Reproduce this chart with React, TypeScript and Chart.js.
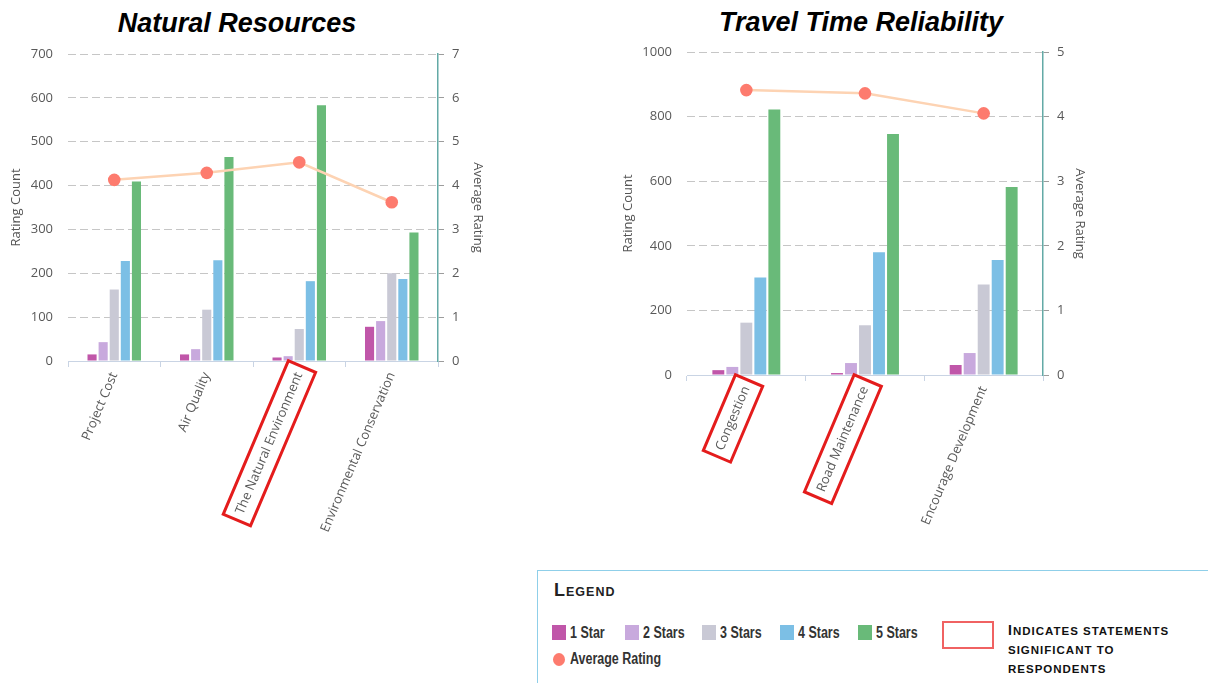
import React, { useEffect, useRef } from "react";
import { Chart, registerables } from "chart.js";

Chart.register(...registerables);

// ---- Natural Resources ----
const NR_CATEGORIES = ["Project Cost", "Air Quality", "The Natural Environment", "Environmental Conservation"];
const NR_ONE_STAR = [15, 15, 8, 78];
const NR_TWO_STARS = [43, 27, 11, 91];
const NR_THREE_STARS = [163, 117, 73, 200];
const NR_FOUR_STARS = [228, 230, 182, 187];
const NR_FIVE_STARS = [409, 465, 583, 293];
const NR_AVERAGE = [4.13, 4.29, 4.53, 3.62];
const NR_SIGNIFICANT = ["The Natural Environment"];
const NR_COUNT_MAX = 700;
const NR_COUNT_STEP = 100;
const NR_RATING_MAX = 7;

// ---- Travel Time Reliability ----
const TT_CATEGORIES = ["Congestion", "Road Maintenance", "Encourage Development"];
const TT_ONE_STAR = [15, 6, 31];
const TT_TWO_STARS = [25, 37, 68];
const TT_THREE_STARS = [162, 154, 280];
const TT_FOUR_STARS = [302, 380, 356];
const TT_FIVE_STARS = [822, 746, 582];
const TT_AVERAGE = [4.41, 4.36, 4.05];
const TT_SIGNIFICANT = ["Congestion", "Road Maintenance"];
const TT_COUNT_MAX = 1000;
const TT_COUNT_STEP = 200;
const TT_RATING_MAX = 5;

const STAR_LABELS = ["1 Star", "2 Stars", "3 Stars", "4 Stars", "5 Stars"];
const STAR_COLORS = ["#c056a9", "#c8a9dd", "#c9c9d5", "#7cbfe5", "#69ba79"];
const AVERAGE_LABEL = "Average Rating";
const LINE_COLOR = "#fdd3b3";
const POINT_COLOR = "#fd7b6e";
const HIGHLIGHT_RED = "#e41c1c";

const TICK_FONT = { family: "'Open Sans', 'DejaVu Sans', sans-serif", size: 13 };
const TICK_COLOR = "#595959";
const X_AXIS_COLOR = "#c9d4e4";
const RIGHT_AXIS_COLOR = "#63aaa6";

type Geometry = {
  left: number;
  width: number;
  height: number;
  plotLeft: number;
  plotRight: number;
  plotTop: number;
  plotBottom: number;
  leftTitlePad: number;
  rightTitlePad: number;
  barPercentage: number;
  categoryPercentage: number;
};

type PanelProps = {
  categories: string[];
  series: number[][];
  averages: number[];
  significant: string[];
  countMax: number;
  countStep: number;
  ratingMax: number;
  geo: Geometry;
};

function RatingPanel({ categories, series, averages, significant, countMax, countStep, ratingMax, geo }: PanelProps) {
  const ref = useRef<HTMLCanvasElement | null>(null);

  useEffect(() => {
    if (!ref.current) return;

    // Outlines the x-axis labels of statements flagged as significant
    const significantBoxes = {
      id: "significantBoxes",
      afterDraw(chart: any) {
        const scale = chart.scales.x;
        const items = scale.getLabelItems();
        const ctx = chart.ctx;
        items.forEach((item: any) => {
          const label = Array.isArray(item.label) ? item.label.join(" ") : String(item.label);
          if (!significant.includes(label)) return;
          const o = item.options;
          ctx.save();
          ctx.translate(o.translation[0], o.translation[1]);
          ctx.rotate(o.rotation);
          ctx.font = item.font.string;
          const w = ctx.measureText(label).width;
          const lh = item.font.lineHeight;
          let cy = item.textOffset;
          if (o.textBaseline === "top") cy += lh / 2;
          else if (o.textBaseline === "bottom") cy -= lh / 2;
          let x0 = -w;
          if (o.textAlign === "center") x0 = -w / 2;
          else if (o.textAlign === "left") x0 = 0;
          const padEnd = 7;
          const padSide = 7;
          ctx.strokeStyle = HIGHLIGHT_RED;
          ctx.lineWidth = 3;
          ctx.strokeRect(x0 - padEnd, cy - lh / 2 - padSide, w + padEnd * 2, lh + padSide * 2);
          ctx.restore();
        });
      },
    };

    const chart = new Chart(ref.current, {
      type: "bar",
      data: {
        labels: categories,
        datasets: [
          ...series.map((values, i) => ({
            type: "bar" as const,
            label: STAR_LABELS[i],
            data: values,
            backgroundColor: STAR_COLORS[i],
            borderWidth: 0,
            yAxisID: "y",
            order: 1,
            barPercentage: geo.barPercentage,
            categoryPercentage: geo.categoryPercentage,
          })),
          {
            type: "line" as const,
            label: AVERAGE_LABEL,
            data: averages,
            yAxisID: "y1",
            borderColor: LINE_COLOR,
            borderWidth: 2.5,
            pointRadius: 6.3,
            pointHoverRadius: 6.3,
            pointBackgroundColor: POINT_COLOR,
            pointBorderColor: POINT_COLOR,
            pointBorderWidth: 0,
            tension: 0,
            order: 0,
          },
        ],
      } as any,
      options: {
        animation: false,
        responsive: false,
        maintainAspectRatio: false,
        layout: { padding: { top: geo.plotTop, left: 0, right: 0, bottom: 0 } },
        plugins: {
          legend: { display: false },
          tooltip: { enabled: false },
          title: { display: false },
        },
        scales: {
          x: {
            offset: true,
            grid: {
              display: true,
              offset: true,
              drawOnChartArea: false,
              drawTicks: true,
              tickLength: 6,
              color: X_AXIS_COLOR,
            },
            border: { display: true, color: X_AXIS_COLOR, width: 1 },
            ticks: {
              autoSkip: false,
              minRotation: 67,
              maxRotation: 67,
              padding: 3,
              color: TICK_COLOR,
              font: TICK_FONT,
            },
            afterFit: (s: any) => {
              s.height = geo.height - geo.plotBottom;
            },
          },
          y: {
            position: "left",
            min: 0,
            max: countMax,
            ticks: {
              stepSize: countStep,
              padding: 15,
              color: TICK_COLOR,
              font: TICK_FONT,
              callback: (v: any) => String(v),
            },
            grid: { color: "#c6c6c6", drawTicks: false, lineWidth: 1 },
            border: { display: false, dash: [8, 4] },
            title: {
              display: true,
              text: "Rating Count",
              color: "#555",
              font: TICK_FONT,
              padding: { top: geo.leftTitlePad, bottom: 0 },
            },
            afterFit: (s: any) => {
              s.width = geo.plotLeft;
            },
          },
          y1: {
            position: "right",
            min: 0,
            max: ratingMax,
            ticks: { stepSize: 1, padding: 8, color: TICK_COLOR, font: TICK_FONT },
            grid: { drawOnChartArea: false, drawTicks: true, tickLength: 6, color: "#9c9c9c" },
            border: { display: true, color: RIGHT_AXIS_COLOR, width: 1.5 },
            title: {
              display: true,
              text: AVERAGE_LABEL,
              color: "#555",
              font: TICK_FONT,
              padding: { top: geo.rightTitlePad, bottom: 0 },
            },
            afterFit: (s: any) => {
              s.width = geo.width - geo.plotRight;
            },
          },
        },
      } as any,
      plugins: [significantBoxes],
    });

    return () => chart.destroy();
  }, []);

  return (
    <canvas
      ref={ref}
      width={geo.width}
      height={geo.height}
      style={{ position: "absolute", left: geo.left, top: 0, width: geo.width, height: geo.height }}
    />
  );
}

const titleStyle: React.CSSProperties = {
  position: "absolute",
  width: 400,
  textAlign: "center",
  fontFamily: "'Liberation Sans', Arial, sans-serif",
  fontWeight: "bold",
  fontStyle: "italic",
  fontSize: 27,
  lineHeight: "27px",
  color: "#000",
  whiteSpace: "nowrap",
};

const legendText: React.CSSProperties = {
  position: "absolute",
  fontFamily: "'Liberation Sans', Arial, sans-serif",
  fontWeight: "bold",
  fontSize: 16,
  lineHeight: "16px",
  color: "#333",
  whiteSpace: "nowrap",
  transform: "scaleX(0.78)",
  transformOrigin: "left center",
};

const SWATCH_X = [551, 624, 701, 779, 857];

function Legend() {
  const capsBig: React.CSSProperties = { fontSize: 14 };
  const capsSmall: React.CSSProperties = { fontSize: 11.5 };
  return (
    <div
      style={{
        position: "absolute",
        left: 537,
        top: 570,
        width: 700,
        height: 130,
        borderTop: "1px solid #8fcfe9",
        borderLeft: "1px solid #8fcfe9",
      }}
    >
      <div
        style={{
          position: "absolute",
          left: 16,
          top: 8,
          fontFamily: "'Liberation Sans', Arial, sans-serif",
          fontWeight: "bold",
          fontSize: 18,
          lineHeight: "22px",
          letterSpacing: 1,
          color: "#222",
          whiteSpace: "nowrap",
        }}
      >
        L<span style={{ fontSize: 12.5 }}>EGEND</span>
      </div>
      {STAR_LABELS.map((label, i) => (
        <React.Fragment key={label}>
          <div
            style={{
              position: "absolute",
              left: SWATCH_X[i] - 537,
              top: 624 - 570,
              width: 14,
              height: 15,
              background: STAR_COLORS[i],
            }}
          />
          <div style={{ ...legendText, left: SWATCH_X[i] - 537 + 18, top: 624 - 570 }}>{label}</div>
        </React.Fragment>
      ))}
      <div
        style={{
          position: "absolute",
          left: 552 - 537,
          top: 652 - 570,
          width: 12,
          height: 13,
          borderRadius: "50%",
          background: POINT_COLOR,
        }}
      />
      <div style={{ ...legendText, left: 569 - 537, top: 650 - 570 }}>{AVERAGE_LABEL}</div>
      <div
        style={{
          position: "absolute",
          left: 941 - 537,
          top: 620 - 570,
          width: 52,
          height: 28,
          boxSizing: "border-box",
          border: "2px solid #f06262",
        }}
      />
      <div
        style={{
          position: "absolute",
          left: 1007 - 537,
          top: 620 - 570,
          fontFamily: "'Liberation Sans', Arial, sans-serif",
          fontWeight: "bold",
          fontSize: 14,
          lineHeight: "18px",
          letterSpacing: 1,
          color: "#111",
          whiteSpace: "nowrap",
        }}
      >
        <div>
          <span style={capsBig}>I</span>
          <span style={capsSmall}>NDICATES STATEMENTS</span>
        </div>
        <div>
          <span style={capsSmall}>SIGNIFICANT TO</span>
        </div>
        <div>
          <span style={capsSmall}>RESPONDENTS</span>
        </div>
      </div>
    </div>
  );
}

export default function App() {
  return (
    <div
      style={{
        position: "absolute",
        left: 0,
        top: 0,
        width: 1208,
        height: 683,
        background: "#fff",
        overflow: "hidden",
      }}
    >
      <div style={{ ...titleStyle, left: 37, top: 10 }}>Natural Resources</div>
      <div style={{ ...titleStyle, left: 661, top: 9 }}>Travel Time Reliability</div>
      <RatingPanel
        categories={NR_CATEGORIES}
        series={[NR_ONE_STAR, NR_TWO_STARS, NR_THREE_STARS, NR_FOUR_STARS, NR_FIVE_STARS]}
        averages={NR_AVERAGE}
        significant={NR_SIGNIFICANT}
        countMax={NR_COUNT_MAX}
        countStep={NR_COUNT_STEP}
        ratingMax={NR_RATING_MAX}
        geo={{
          left: 0,
          width: 510,
          height: 560,
          plotLeft: 68,
          plotRight: 438,
          plotTop: 54,
          plotBottom: 361,
          leftTitlePad: 8,
          rightTitlePad: 24,
          barPercentage: 0.82,
          categoryPercentage: 0.6,
        }}
      />
      <RatingPanel
        categories={TT_CATEGORIES}
        series={[TT_ONE_STAR, TT_TWO_STARS, TT_THREE_STARS, TT_FOUR_STARS, TT_FIVE_STARS]}
        averages={TT_AVERAGE}
        significant={TT_SIGNIFICANT}
        countMax={TT_COUNT_MAX}
        countStep={TT_COUNT_STEP}
        ratingMax={TT_RATING_MAX}
        geo={{
          left: 600,
          width: 510,
          height: 560,
          plotLeft: 87,
          plotRight: 443,
          plotTop: 52,
          plotBottom: 375,
          leftTitlePad: 20,
          rightTitlePad: 22,
          barPercentage: 0.85,
          categoryPercentage: 0.59,
        }}
      />
      <Legend />
    </div>
  );
}
